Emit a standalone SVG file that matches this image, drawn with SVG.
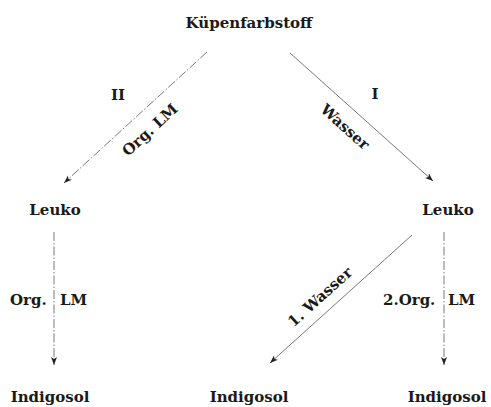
<svg xmlns="http://www.w3.org/2000/svg" width="491" height="407" viewBox="0 0 491 407">
<defs>
<marker id="ah" markerUnits="userSpaceOnUse" markerWidth="10" markerHeight="8" refX="8" refY="3" orient="auto">
<path d="M0,0 L8,3 L0,6 L2,3 z" fill="#222"/>
</marker>
<style>
.t{font-family:"DejaVu Serif","Liberation Serif",serif;font-weight:bold;font-size:15px;fill:#1a1a1a}
.c{stroke:#555;stroke-width:0.8;fill:none;marker-end:url(#ah)}
.d{stroke-dasharray:9 2 1.5 2}
</style>
</defs>
<rect width="491" height="407" fill="#fff"/>
<g id="n_kuepen"><text class="t" x="249" y="28" text-anchor="middle">Küpenfarbstoff</text></g>
<g id="n_leuko_l"><text class="t" x="55" y="215" text-anchor="middle">Leuko</text></g>
<g id="n_leuko_r"><text class="t" x="448" y="215" text-anchor="middle">Leuko</text></g>
<g id="n_indigo_l"><text class="t" x="50" y="402" text-anchor="middle">Indigosol</text></g>
<g id="n_indigo_m"><text class="t" x="249" y="402" text-anchor="middle">Indigosol</text></g>
<g id="n_indigo_r"><text class="t" x="447" y="402" text-anchor="middle">Indigosol</text></g>
<g id="connectors">
<line class="c d" x1="207" y1="52" x2="64" y2="183"/>
<line class="c" x1="290" y1="53" x2="433" y2="181"/>
<line class="c d" x1="54" y1="232" x2="54" y2="365"/>
<line class="c" x1="412" y1="235" x2="270" y2="363"/>
<line class="c d" x1="444" y1="232" x2="444" y2="365"/>
<text class="t" x="118" y="100" text-anchor="middle">II</text>
<text class="t" x="375" y="99" text-anchor="middle">I</text>
<text class="t" transform="translate(150,130) rotate(-42.5)" x="0" y="5" text-anchor="middle">Org. LM</text>
<text class="t" transform="translate(345,127) rotate(42)" x="0" y="5" text-anchor="middle">Wasser</text>
<text class="t" transform="translate(320,297) rotate(-42)" x="0" y="5" text-anchor="middle">1. Wasser</text>
<text class="t" x="10" y="305">Org.</text>
<text class="t" x="60" y="305">LM</text>
<text class="t" x="383" y="305">2.Org.</text>
<text class="t" x="448" y="305">LM</text>
</g>
</svg>
